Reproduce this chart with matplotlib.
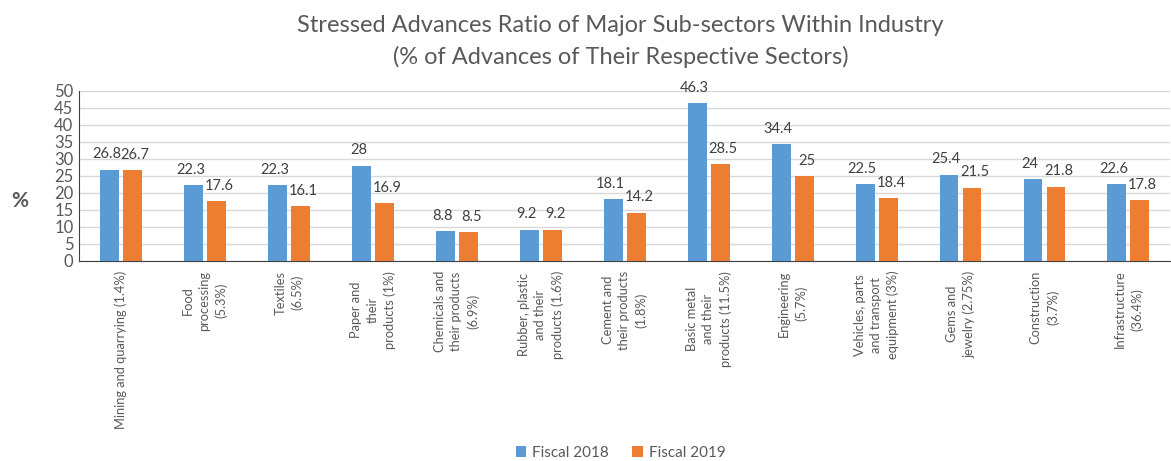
import numpy as np
import matplotlib
matplotlib.use("Agg")
import matplotlib.pyplot as plt

# Datos del gráfico
sectores = [
    "Mining and quarrying (1.4%)",
    "Food\nprocessing\n(5.3%)",
    "Textiles\n(6.5%)",
    "Paper and\ntheir\nproducts (1%)",
    "Chemicals and\ntheir products\n(6.9%)",
    "Rubber, plastic\nand their\nproducts (1.6%)",
    "Cement and\ntheir products\n(1.8%)",
    "Basic metal\nand their\nproducts (11.5%)",
    "Engineering\n(5.7%)",
    "Vehicles, parts\nand transport\nequipment (3%)",
    "Gems and\njewelry (2.75%)",
    "Construction\n(3.7%)",
    "Infrastructure\n(36.4%)",
]
fiscal_2018 = [26.8, 22.3, 22.3, 28, 8.8, 9.2, 18.1, 46.3, 34.4, 22.5, 25.4, 24, 22.6]
fiscal_2019 = [26.7, 17.6, 16.1, 16.9, 8.5, 9.2, 14.2, 28.5, 25, 18.4, 21.5, 21.8, 17.8]
series = ["Fiscal 2018", "Fiscal 2019"]
yticks = list(range(0, 55, 5))

gris = "#595959"
azul = "#5b9bd5"
naranja = "#ed7d31"

plt.rcParams["font.family"] = ["Lato", "DejaVu Sans"]

fig = plt.figure(figsize=(11.71, 4.61), dpi=100)
ax = fig.add_axes([0.0675, 0.434, 0.932, 0.369])

x = np.arange(len(sectores))
ancho = 0.225
desp = 0.137

b1 = ax.bar(x - desp, fiscal_2018, ancho, color=azul, label=series[0], zorder=3)
b2 = ax.bar(x + desp, fiscal_2019, ancho, color=naranja, label=series[1], zorder=3)

# Etiquetas de datos
for barras, dx in ((b1, -2), (b2, 2)):
    for b in barras:
        v = b.get_height()
        txt = f"{v:g}"
        ax.annotate(txt, (b.get_x() + b.get_width() / 2, v), xytext=(dx, 6),
                    textcoords="offset points", ha="center", va="bottom",
                    fontsize=10.5, color="#404040")

ax.set_xlim(-0.5, len(sectores) - 0.5)
ax.set_ylim(0, 50)
ax.set_yticks(yticks)
ax.tick_params(axis="y", length=0, labelsize=12, labelcolor=gris, pad=4)
ax.set_xticks(x)
ax.set_xticklabels(sectores, rotation=90, ha="center", va="top",
                   fontsize=9.3, color=gris, multialignment="center",
                   linespacing=1.45)
ax.tick_params(axis="x", length=0, pad=7)

ax.yaxis.grid(True, color="#d9d9d9", linewidth=1, zorder=0)
for s in ("top", "right"):
    ax.spines[s].set_visible(False)
ax.spines["left"].set_color("#404040")
ax.spines["bottom"].set_color("#404040")

fig.text(0.017, 0.565, "%", fontsize=15, fontweight="bold", color=gris,
         ha="center", va="center")

fig.text(0.53, 0.945, "Stressed Advances Ratio of Major Sub-sectors Within Industry",
         ha="center", va="center", fontsize=17, color=gris)
fig.text(0.53, 0.877, "(% of Advances of Their Respective Sectors)",
         ha="center", va="center", fontsize=17, color=gris)

fig.legend(loc="center", bbox_to_anchor=(0.53, 0.017), ncol=2, frameon=False,
           fontsize=11, labelcolor=gris, handlelength=0.7, handleheight=0.7,
           handletextpad=0.4, columnspacing=1.5)

fig.savefig("out.png", dpi=100)
